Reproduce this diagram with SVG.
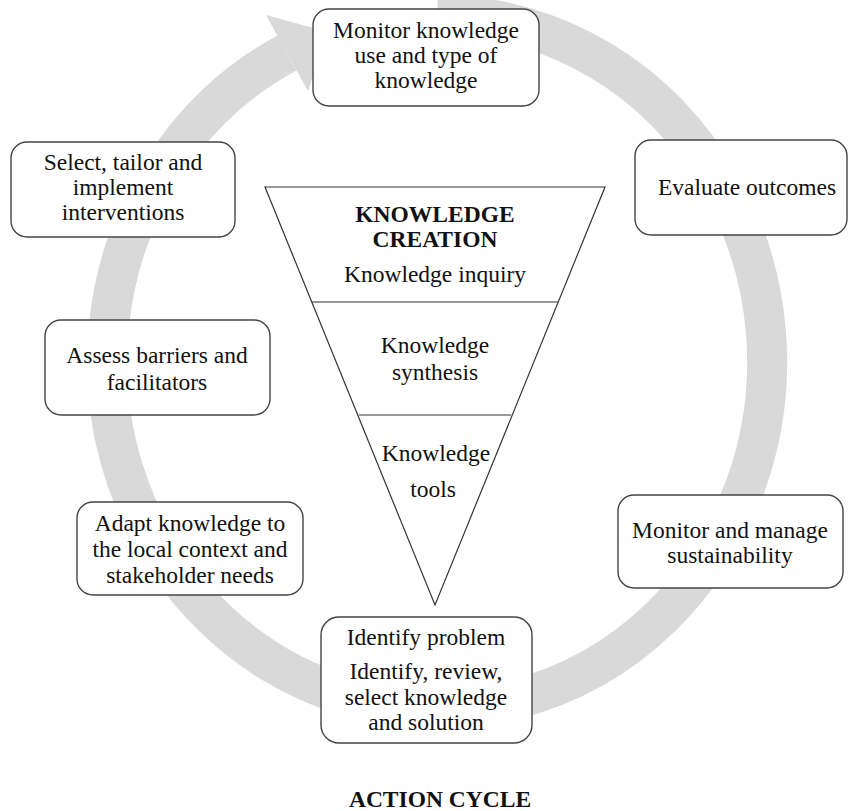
<svg xmlns="http://www.w3.org/2000/svg" width="849" height="811" viewBox="0 0 849 811">
  <style>
    .box { fill: #ffffff; stroke: #444444; stroke-width: 1.4; }
    .tri { fill: #ffffff; stroke: #333333; stroke-width: 1.2; }
    .t { font-family: "Liberation Serif", "Times New Roman", serif; font-size: 23.5px; fill: #111111; text-anchor: middle; }
    .b { font-weight: bold; }
    .ring { fill: none; stroke: #d9d9d9; stroke-width: 40; }
  </style>
  <rect width="849" height="811" fill="#ffffff"/>

  <!-- action cycle ring with arrowhead -->
  <g id="connectors">
    <path class="ring" d="M 437.5 15 A 330 347 0 1 1 287 53"/>
    <polygon points="266,15 328,32 308,91" fill="#d9d9d9"/>
  </g>

  <!-- knowledge creation funnel -->
  <g id="knowledge-creation">
    <polygon class="tri" points="265,187 605,187 435,605"/>
    <line class="tri" x1="312" y1="302" x2="558" y2="302"/>
    <line class="tri" x1="359" y1="415" x2="511" y2="415"/>
    <text class="t b" x="435" y="222">KNOWLEDGE</text>
    <text class="t b" x="435" y="247">CREATION</text>
    <text class="t" x="435" y="282">Knowledge inquiry</text>
    <text class="t" x="435" y="353">Knowledge</text>
    <text class="t" x="435" y="380">synthesis</text>
    <text class="t" x="436" y="461">Knowledge</text>
    <text class="t" x="433" y="497">tools</text>
  </g>

  <g id="monitor-use">
    <rect class="box" x="313" y="9" width="226" height="97" rx="16"/>
    <text class="t" x="426" y="38">Monitor knowledge</text>
    <text class="t" x="426" y="63">use and type of</text>
    <text class="t" x="426" y="88">knowledge</text>
  </g>

  <g id="evaluate-outcomes">
    <rect class="box" x="635" y="140" width="212" height="95" rx="16"/>
    <text class="t" x="747" y="195">Evaluate outcomes</text>
  </g>

  <g id="sustainability">
    <rect class="box" x="618" y="495" width="225" height="93" rx="16"/>
    <text class="t" x="730" y="538">Monitor and manage</text>
    <text class="t" x="730" y="563">sustainability</text>
  </g>

  <g id="identify-problem">
    <rect class="box" x="321" y="617" width="211" height="126" rx="18"/>
    <text class="t" x="426" y="645">Identify problem</text>
    <text class="t" x="426" y="679">Identify, review,</text>
    <text class="t" x="426" y="705">select knowledge</text>
    <text class="t" x="426" y="730">and solution</text>
  </g>

  <g id="adapt-knowledge">
    <rect class="box" x="77" y="502" width="226" height="93" rx="16"/>
    <text class="t" x="190" y="531">Adapt knowledge to</text>
    <text class="t" x="190" y="557">the local context and</text>
    <text class="t" x="190" y="583">stakeholder needs</text>
  </g>

  <g id="assess-barriers">
    <rect class="box" x="45" y="320" width="225" height="95" rx="16"/>
    <text class="t" x="157" y="363">Assess barriers and</text>
    <text class="t" x="157" y="390">facilitators</text>
  </g>

  <g id="select-interventions">
    <rect class="box" x="11" y="142" width="224" height="95" rx="16"/>
    <text class="t" x="123" y="170">Select, tailor and</text>
    <text class="t" x="123" y="195">implement</text>
    <text class="t" x="123" y="220">interventions</text>
  </g>

  <text class="t b" x="440" y="807">ACTION CYCLE</text>
</svg>
